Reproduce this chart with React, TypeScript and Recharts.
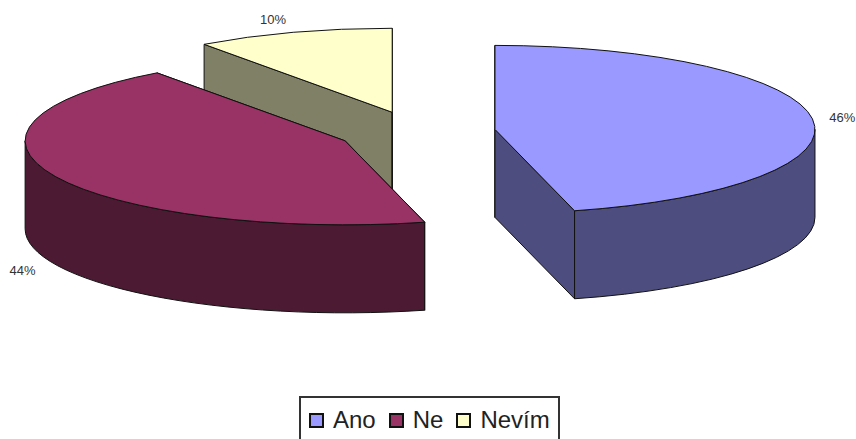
import { Legend, Pie, PieChart } from 'recharts';

// Draw order is back to front: Nevím, then Ano, then Ne in front of Nevím.
const drawOrder = ['Nevím', 'Ano', 'Ne'];
const drawValues = [10, 46, 44];
const legendOrder = ['Ano', 'Ne', 'Nevím'];

const TOP_COLORS: Record<string, string> = { Ano: '#9999ff', Ne: '#993366', 'Nevím': '#ffffcc' };
const WALL_COLORS: Record<string, string> = { Ano: '#4d4d80', Ne: '#4d1a33', 'Nevím': '#808066' };

const WIDTH = 856;
const HEIGHT = 439;
const RADIUS = 320;
const TILT = 0.2625; // vertical squash of the disc
const DEPTH = 88; // height of the extruded wall
const EXPLODE = 79; // how far each slice is pulled out
const INK = '#111';
const FONT = '"Liberation Sans", Arial, sans-serif';

// small label tweaks, the radial placement alone lands a bit too close
const LABEL_NUDGE: Record<string, [number, number]> = {
  Ano: [0, 0],
  Ne: [-6, 88],
  'Nevím': [-11, 0],
};

const pieData = drawOrder.map((name, i) => ({ name, value: drawValues[i] }));

const rad = (deg: number) => (deg * Math.PI) / 180;

// flattened point of a disc at the given chart angle
const onDisc = (x: number, y: number, r: number, deg: number): [number, number] => [
  x + r * Math.cos(rad(deg)),
  y - r * TILT * Math.sin(rad(deg)),
];

const poly = (pts: [number, number][]) => 'M' + pts.map((p) => p.join(' ')).join('L') + 'Z';

function Slice3D(props: any) {
  const { cx, cy, startAngle, endAngle, midAngle, outerRadius, name } = props;
  const [ax, ay] = onDisc(cx, cy, EXPLODE, midAngle);
  const a = onDisc(ax, ay, outerRadius, startAngle);
  const b = onDisc(ax, ay, outerRadius, endAngle);
  const wall = WALL_COLORS[name];
  const down = (p: [number, number]): [number, number] => [p[0], p[1] + DEPTH];
  const apex: [number, number] = [ax, ay];
  const rx = outerRadius;
  const ry = outerRadius * TILT;

  // only the part of the rim between 0 and -180 degrees faces the viewer
  const w1 = Math.min(startAngle, 0);
  const w2 = Math.max(endAngle, -180);
  const rimA = onDisc(ax, ay, outerRadius, w1);
  const rimB = onDisc(ax, ay, outerRadius, w2);
  const large = startAngle - endAngle > 180 ? 1 : 0;

  return (
    <g stroke={INK} strokeWidth={1} strokeLinejoin="round">
      <path d={poly([apex, a, down(a), down(apex)])} fill={wall} />
      <path d={poly([apex, b, down(b), down(apex)])} fill={wall} />
      {w1 > w2 && (
        <path
          d={`M${rimA.join(' ')}A${rx} ${ry} 0 0 1 ${rimB.join(' ')}L${down(rimB).join(' ')}A${rx} ${ry} 0 0 0 ${down(rimA).join(' ')}Z`}
          fill={wall}
        />
      )}
      <path
        d={`M${apex.join(' ')}L${a.join(' ')}A${rx} ${ry} 0 ${large} 1 ${b.join(' ')}Z`}
        fill={TOP_COLORS[name]}
      />
    </g>
  );
}

function PercentLabel(props: any) {
  const { cx, cy, midAngle, outerRadius, name, value } = props;
  const [ax, ay] = onDisc(cx, cy, EXPLODE, midAngle);
  const [rimX, rimY] = onDisc(ax, ay, outerRadius, midAngle);
  const [nx, ny] = LABEL_NUDGE[name];
  const x = rimX + 30 * Math.cos(rad(midAngle)) + nx;
  const y = rimY - 14 * Math.sin(rad(midAngle)) + ny;
  return (
    <text x={x} y={y} textAnchor="middle" dominantBaseline="central" fontSize={13} fontFamily={FONT} fill="#333">
      {value}%
    </text>
  );
}

function LegendBox() {
  return (
    <div
      style={{
        display: 'flex',
        alignItems: 'center',
        boxSizing: 'border-box',
        width: 261,
        height: 60,
        paddingLeft: 8,
        paddingBottom: 12,
        border: '2px solid #333',
        background: '#fff',
        fontFamily: FONT,
        fontSize: 24,
        color: '#222',
      }}
    >
      {legendOrder.map((name) => (
        <div key={name} style={{ display: 'flex', alignItems: 'center', marginRight: 13 }}>
          <span
            style={{
              display: 'inline-block',
              boxSizing: 'border-box',
              width: 15,
              height: 15,
              marginRight: 9,
              background: TOP_COLORS[name],
              border: '2px solid #111',
            }}
          />
          {name}
        </div>
      ))}
    </div>
  );
}

export default function App() {
  return (
    <div style={{ position: 'absolute', left: 0, top: 0, width: WIDTH, height: HEIGHT, overflow: 'hidden', background: '#fff' }}>
      <PieChart width={WIDTH} height={HEIGHT} margin={{ top: 0, right: 0, bottom: 0, left: 0 }}>
        <Pie
          data={pieData}
          dataKey="value"
          nameKey="name"
          cx={416.6}
          cy={132}
          outerRadius={RADIUS}
          startAngle={126}
          endAngle={-234}
          stroke="none"
          shape={Slice3D}
          label={PercentLabel}
          labelLine={false}
          isAnimationActive={false}
        />
        <Legend content={<LegendBox />} wrapperStyle={{ left: 299, top: 396, width: 261, bottom: 'auto' }} />
      </PieChart>
    </div>
  );
}
